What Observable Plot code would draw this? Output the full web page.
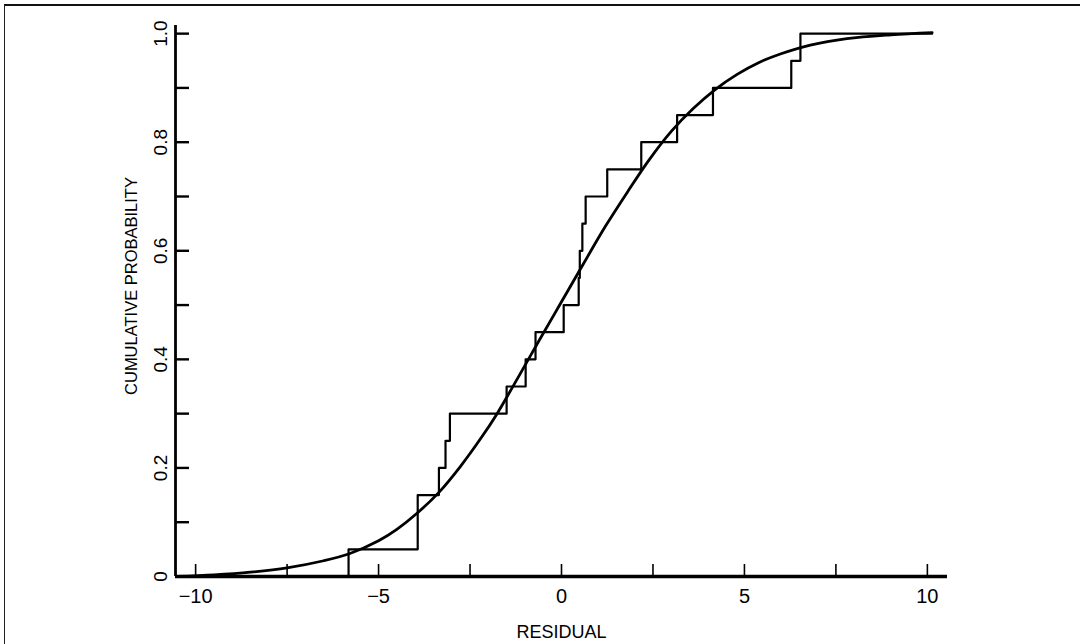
<!DOCTYPE html>
<html><head><meta charset="utf-8">
<script src="https://cdn.jsdelivr.net/npm/d3@7"></script>
<script src="https://cdn.jsdelivr.net/npm/@observablehq/plot@0.6"></script>
<style>
html,body{margin:0;padding:0;background:#fff;overflow:hidden}
#wrap{position:relative;width:1080px;height:644px}
#frame{position:absolute;left:4px;top:4px;width:1090px;height:660px;border-top:2px solid #111;border-left:1.5px solid #222;pointer-events:none}
</style></head><body><div id="wrap"><div id="frame"></div></div>
<script>
const xLabel = "RESIDUAL";
const yLabel = "CUMULATIVE PROBABILITY";

// empirical CDF: residual at which each step occurs, and level after the step
const stepX = [-5.82, -3.93, -3.35, -3.17, -3.05, -1.50, -0.98, -0.71, 0.06, 0.47, 0.50, 0.57, 0.66, 1.25, 2.18, 3.16, 4.14, 6.28, 6.53];
const stepP = [0.05, 0.15, 0.20, 0.25, 0.30, 0.35, 0.40, 0.45, 0.50, 0.55, 0.60, 0.65, 0.70, 0.75, 0.80, 0.85, 0.90, 0.95, 1.00];
const ecdfEndX = 10.13;

// fitted smooth CDF
const curveX = [-10.5, -9.5, -8.5, -7.5, -6.5, -5.8, -5.0, -4.5, -3.94, -3.35, -2.76, -2.2, -1.76, -1.2, -0.6, 0.0, 0.6, 1.2, 1.8, 2.4, 3.0, 3.6, 4.2, 4.8, 5.4, 6.0, 6.8, 7.8, 9.0, 10.13];
const curveP = [0.000, 0.003, 0.008, 0.016, 0.029, 0.042, 0.066, 0.087, 0.117, 0.155, 0.203, 0.255, 0.300, 0.365, 0.436, 0.506, 0.576, 0.645, 0.708, 0.768, 0.820, 0.862, 0.897, 0.925, 0.947, 0.963, 0.979, 0.991, 0.998, 1.002];

const xTicks = [-10, -7.5, -5, -2.5, 0, 2.5, 5, 7.5, 10];
const xTickLabels = [-10, -5, 0, 5, 10];
const yTicks = [0, 0.1, 0.2, 0.3, 0.4, 0.5, 0.6, 0.7, 0.8, 0.9, 1.0];
const yTickLabels = [0, 0.2, 0.4, 0.6, 0.8, 1.0];
const xDomain = [-10.55, 10.55];
const yDomain = [0, 1.015];

const ecdf = [{x: stepX[0], p: 0}]
  .concat(stepX.map((x, i) => ({x, p: stepP[i]})))
  .concat([{x: ecdfEndX, p: stepP[stepP.length - 1]}]);
const curve = curveX.map((x, i) => ({x, p: curveP[i]}));

const fx = d => d < 0 ? "\u2212" + Math.abs(d) : String(d);
const fy = d => d === 0 ? "0" : d.toFixed(1);

const chart = Plot.plot({
  width: 1080, height: 644,
  marginLeft: 175, marginRight: 133, marginTop: 25, marginBottom: 68,
  x: {domain: xDomain},
  y: {domain: yDomain},
  style: {fontFamily: "'Liberation Sans', Arial, Helvetica, sans-serif", color: "#000", background: "#fff"},
  marks: [
    Plot.ruleX([xDomain[0]], {stroke: "#000", strokeWidth: 2.8}),
    Plot.ruleY([0], {stroke: "#000", strokeWidth: 3.5}),
    Plot.axisY(yTicks, {tickSize: -14, strokeWidth: 2.4, tickFormat: () => "", label: null}),
    Plot.axisY(yTickLabels, {tickSize: 0, tickPadding: 15, rotate: -90, textAnchor: "middle", tickFormat: fy, fontSize: 19, label: null, fill: "#000"}),
    Plot.axisX(xTicks, {tickSize: -12, strokeWidth: 1.6, tickFormat: () => "", label: null}),
    Plot.axisX(xTickLabels, {tickSize: 0, tickPadding: 12, tickFormat: fx, fontSize: 20, label: null, fill: "#000"}),
    Plot.text([yLabel], {text: d => d, frameAnchor: "left", rotate: -90, dx: -44, dy: -15, fontSize: 16.5, textAnchor: "middle", lineAnchor: "middle", fill: "#000"}),
    Plot.text([xLabel], {text: d => d, frameAnchor: "bottom", dy: 56, fontSize: 18, textAnchor: "middle", lineAnchor: "middle", fill: "#000"}),
    Plot.line(curve, {x: "x", y: "p", curve: "catmull-rom", stroke: "#000", strokeWidth: 2.8}),
    Plot.line(ecdf, {x: "x", y: "p", curve: "step-after", stroke: "#000", strokeWidth: 2.2})
  ]
});
document.getElementById("wrap").prepend(chart);
</script>
</body></html>
